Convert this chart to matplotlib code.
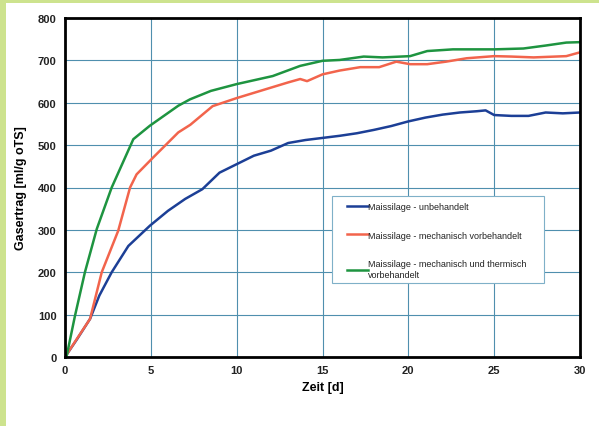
import matplotlib.pyplot as plt
from matplotlib.patches import Rectangle

# --- DATEN ---
zeit_blau = [0, 0.7, 1.46, 2, 2.72, 3.69, 4.95, 6, 7, 8, 9, 10, 11, 12, 13, 14, 15,
             16, 17, 18, 19, 20, 21, 22, 23, 24, 24.5, 25, 26, 27, 28, 29, 30]
blau = [0, 42, 90, 145, 200, 262, 310, 345, 373, 396, 435, 455, 475, 487,
        505, 512, 517, 522, 528, 536, 545, 556, 565, 572, 577, 580, 582, 571, 569, 569, 577, 575, 577]

zeit_rot = [0, 0.68, 1.46, 2.14, 3.1, 3.79, 4.17, 5.14, 6.6, 7.3, 8.6, 10, 11.7, 13, 13.7, 14.1,
            15, 16, 17.2, 18.3, 19.3, 20.1, 21.1, 22.2, 23.4, 25, 26, 27.3, 29.2, 30]
rot = [0, 42, 90, 200, 298, 400, 431, 471, 530, 548, 592, 611, 632, 648, 656, 651,
       667, 676, 684, 684, 697, 691, 691, 697, 705, 710, 709, 707, 710, 719]

zeit_gruen = [0, 0.1, 0.58, 1.16, 1.85, 2.72, 3.98, 4.95, 6.6, 7.28, 8.5, 10, 12.1, 13.7, 15,
              16, 17.4, 18.5, 20.1, 21.1, 22.6, 25, 26.7, 28, 29.2, 30]
gruen = [0, 3, 97, 200, 302, 400, 514, 546, 593, 608, 628, 644, 663, 687, 699, 701,
         709, 707, 710, 722, 726, 726, 728, 735, 742, 743]

labels = ["Maissilage - unbehandelt",
          "Maissilage - mechanisch vorbehandelt",
          "Maissilage - mechanisch und thermisch\nvorbehandelt"]
x_ticks = [0, 5, 10, 15, 20, 25, 30]
y_ticks = [0, 100, 200, 300, 400, 500, 600, 700, 800]

plt.rcParams['font.family'] = ['Liberation Sans', 'DejaVu Sans']

fig = plt.figure(figsize=(5.99, 4.27), dpi=100)
fig.patch.set_facecolor("white")
# gruener Rand links und oben
fig.patches.append(Rectangle((0, 0), 6 / 599, 1, transform=fig.transFigure,
                             facecolor="#cde38e", edgecolor="none", zorder=0))
fig.patches.append(Rectangle((0, 1 - 4 / 427), 1, 4 / 427, transform=fig.transFigure,
                             facecolor="#cde38e", edgecolor="none", zorder=0))

ax = fig.add_axes([65 / 599, 1 - 358 / 427, 515 / 599, 339 / 427])
ax.plot(zeit_blau, blau, color="#1c3f96", lw=1.8, label=labels[0])
ax.plot(zeit_rot, rot, color="#f2644c", lw=1.8, label=labels[1])
ax.plot(zeit_gruen, gruen, color="#1e9440", lw=1.8, label=labels[2])

ax.set_xlim(0, 30)
ax.set_ylim(0, 800)
ax.set_xticks(x_ticks)
ax.set_yticks(y_ticks)
ax.tick_params(length=0, labelsize=8, pad=6)
for t in ax.get_xticklabels() + ax.get_yticklabels():
    t.set_fontweight("bold")
    t.set_color("#222222")
ax.grid(True, color="#4f8fae", lw=0.8)
ax.set_axisbelow(True)
for s in ax.spines.values():
    s.set_linewidth(2)
    s.set_color("black")

ax.set_xlabel("Zeit [d]", fontsize=9, fontweight="bold", labelpad=4)
ax.set_ylabel("Gasertrag [ml/g oTS]", fontsize=9, fontweight="bold", labelpad=8)

# Legendenrahmen separat, damit die Innenabstaende passen
ax.add_patch(Rectangle((0.518, 0.218), 0.412, 0.257, transform=ax.transAxes,
                       facecolor="white", edgecolor="#7fb0c8", lw=0.8, zorder=3))
leg = ax.legend(loc="upper left", bbox_to_anchor=(0.548, 0.458), fontsize=6.5,
                handlelength=2.3, handletextpad=0.05, labelspacing=2.2,
                borderpad=0, borderaxespad=0, frameon=False)
leg.set_zorder(4)
for t in leg.get_texts():
    t.set_color("#222222")

fig.savefig("out.png", dpi=100)
